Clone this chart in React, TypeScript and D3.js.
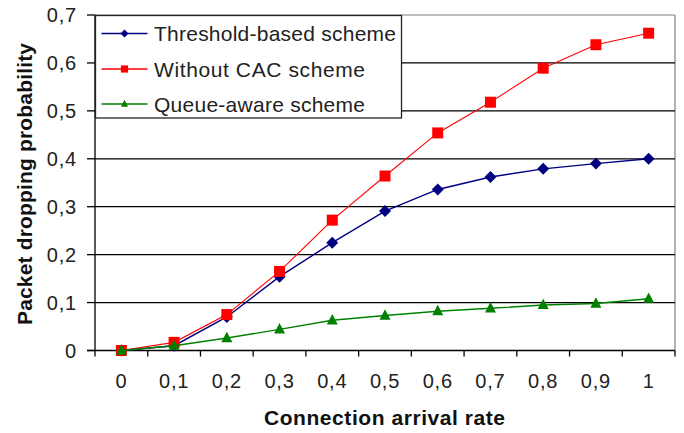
import React from "react";
import * as d3 from "d3";

const categories = ["0", "0,1", "0,2", "0,3", "0,4", "0,5", "0,6", "0,7", "0,8", "0,9", "1"];
const thresholdBased = [0, 0.01, 0.07, 0.154, 0.225, 0.291, 0.336, 0.362, 0.379, 0.39, 0.4];
const withoutCAC = [0, 0.017, 0.075, 0.165, 0.272, 0.364, 0.454, 0.518, 0.589, 0.638, 0.662];
const queueAware = [0, 0.01, 0.026, 0.044, 0.063, 0.073, 0.082, 0.088, 0.095, 0.098, 0.108];
const yTicks = [0, 0.1, 0.2, 0.3, 0.4, 0.5, 0.6, 0.7];
const seriesNames = ["Threshold-based scheme", "Without CAC scheme", "Queue-aware scheme"];

const W = 684;
const H = 433;
const left = 95;
const right = 675;
const top = 15;
const bottom = 350.5;

const FONT = "'Liberation Sans', Arial, sans-serif";

function markerPath(kind: string, s: number) {
  if (kind === "diamond") return `M0,${-s}L${s},0L0,${s}L${-s},0Z`;
  if (kind === "square") return `M${-s},${-s}H${s}V${s}H${-s}Z`;
  // triangle
  return `M0,${-s * 1.15}L${s},${s * 0.75}L${-s},${s * 0.75}Z`;
}

export default function App() {
  const x = d3.scaleBand<string>().domain(categories).range([left, right]).padding(0);
  const y = d3.scaleLinear().domain([0, 0.7]).range([bottom, top]);
  const cx = (c: string) => (x(c) as number) + x.bandwidth() / 2;

  const series = [
    { name: seriesNames[0], values: thresholdBased, color: "#000080", marker: "diamond", size: 6, lw: 1.4, textLen: 242 },
    { name: seriesNames[1], values: withoutCAC, color: "#FF0000", marker: "square", size: 5.5, lw: 1.1, textLen: 211 },
    { name: seriesNames[2], values: queueAware, color: "#008000", marker: "triangle", size: 5.5, lw: 1.4, textLen: 211 },
  ];

  const line = d3
    .line<number>()
    .x((_, i) => cx(categories[i]))
    .y((v) => y(v));

  const tickBounds = [...categories.map((c) => x(c) as number), right];

  const legendRows = [33.5, 69, 104];

  return (
    <svg
      width={W}
      height={H}
      style={{ position: "absolute", left: 0, top: 0, background: "#fff" }}
      fontFamily={FONT}
    >
      <rect x={0} y={0} width={W} height={H} fill="#fff" />
      {/* top and right border */}
      <line x1={left} x2={right} y1={top} y2={top} stroke="#808080" strokeWidth={1.2} />
      <line x1={right} x2={right} y1={top} y2={bottom} stroke="#808080" strokeWidth={1.2} />
      {/* gridlines */}
      {yTicks.slice(1, -1).map((t) => (
        <line key={t} x1={left} x2={right} y1={y(t)} y2={y(t)} stroke="#000" strokeWidth={1.2} />
      ))}
      {/* y axis */}
      <line x1={left} x2={left} y1={top} y2={bottom} stroke="#000" strokeWidth={1.3} />
      {yTicks.map((t) => (
        <g key={"yt" + t}>
          <line x1={left - 8} x2={left} y1={y(t)} y2={y(t)} stroke="#000" strokeWidth={1.3} />
          <text x={77} y={y(t) + 7} textAnchor="end" fontSize={20} letterSpacing={0.8} fill="#222">
            {String(t).replace(".", ",")}
          </text>
        </g>
      ))}
      {/* x axis */}
      <line x1={left - 8} x2={right} y1={bottom} y2={bottom} stroke="#000" strokeWidth={1.3} />
      {tickBounds.map((b, i) => (
        <line key={"xt" + i} x1={b} x2={b} y1={bottom} y2={bottom + 6} stroke="#000" strokeWidth={1.3} />
      ))}
      {categories.map((c) => (
        <text key={"xl" + c} x={cx(c)} y={388} textAnchor="middle" fontSize={20} letterSpacing={0.8} fill="#222">
          {c}
        </text>
      ))}
      {/* series */}
      {series.map((s) => (
        <g key={s.name}>
          <path d={line(s.values) as string} fill="none" stroke={s.color} strokeWidth={s.lw} />
          {s.values.map((v, i) => (
            <path
              key={i}
              d={markerPath(s.marker, s.size)}
              transform={`translate(${cx(categories[i])},${y(v)})`}
              fill={s.color}
            />
          ))}
        </g>
      ))}
      {/* legend */}
      <rect x={95.5} y={15.5} width={306} height={102.5} fill="#fff" stroke="#222" strokeWidth={1.3} />
      {series.map((s, i) => (
        <g key={"lg" + i}>
          <line x1={101.5} x2={147.5} y1={legendRows[i]} y2={legendRows[i]} stroke={s.color} strokeWidth={1.4} />
          <path
            d={markerPath(s.marker, s.marker === "diamond" ? 4 : 3.6)}
            transform={`translate(124.5,${legendRows[i]})`}
            fill={s.color}
          />
          <text
            x={154}
            y={legendRows[i] + 7.5}
            fontSize={21}
            textLength={s.textLen}
            lengthAdjust="spacing"
            fill="#222"
          >
            {s.name}
          </text>
        </g>
      ))}
      {/* axis titles */}
      <text
        x={264}
        y={425}
        fontSize={21}
        fontWeight="bold"
        textLength={241}
        lengthAdjust="spacing"
        fill="#111"
      >
        Connection arrival rate
      </text>
      <text
        transform={`translate(31.5,325) rotate(-90)`}
        x={0}
        y={0}
        fontSize={21}
        fontWeight="bold"
        textLength={282}
        lengthAdjust="spacing"
        fill="#111"
      >
        Packet dropping probability
      </text>
    </svg>
  );
}
